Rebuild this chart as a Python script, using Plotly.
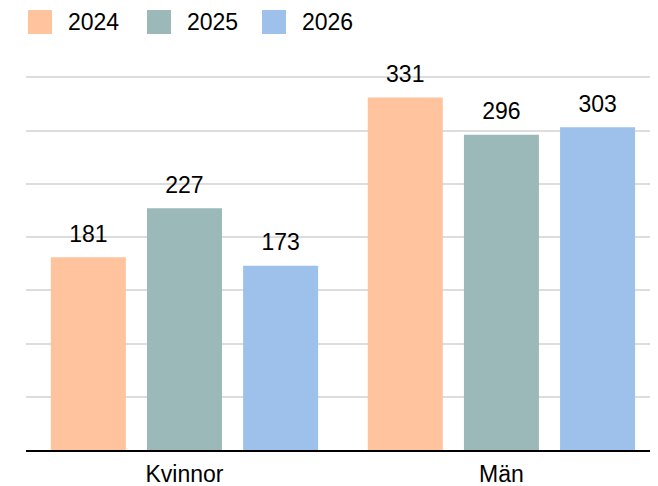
import plotly.graph_objects as go

categories = ["Kvinnor", "Män"]
series_names = ["2024", "2025", "2026"]
values_2024 = [181, 331]
values_2025 = [227, 296]
values_2026 = [173, 303]
series_values = [values_2024, values_2025, values_2026]
colors = ["#FFC39E", "#9BB9B8", "#9DC1EA"]

FONT = "Liberation Sans, Arial, Helvetica, sans-serif"
FS = 23
BARGAP = 0.09

# page body has an 8px default margin, so the figure is sized to fit the window
BODY = 8
TOP = 56 - BODY
PLOT_H = 394

fig = go.Figure()
for name, vals, col in zip(series_names, series_values, colors):
    fig.add_trace(go.Bar(
        x=categories, y=vals, name=name, marker=dict(color=col, line=dict(width=0)),
        offsetgroup=name, showlegend=False, hoverinfo="skip",
    ))
for name, vals in zip(series_names, series_values):
    fig.add_trace(go.Scatter(
        x=categories, y=vals, mode="markers+text", text=[str(v) for v in vals],
        textposition="top center", textfont=dict(family=FONT, size=FS, color="#000000"),
        marker=dict(size=14, opacity=0), offsetgroup=name, showlegend=False,
        hoverinfo="skip",
    ))

# legend drawn as swatches + labels
legend_x = [28, 147, 262]
plot_left, plot_w = 26, 632
shapes, annotations = [], []
for lx, name, col in zip(legend_x, series_names, colors):
    x0 = (lx - plot_left) / plot_w
    x1 = (lx + 24 - plot_left) / plot_w
    shapes.append(dict(type="rect", xref="paper", yref="paper", x0=x0, x1=x1,
                       y0=1 + (56 - 34) / PLOT_H, y1=1 + (56 - 10) / PLOT_H,
                       fillcolor=col, line=dict(width=0), layer="above"))
    annotations.append(dict(text=name, xref="paper", yref="paper",
                            x=(lx + 38 - plot_left) / plot_w, y=1 + (56 - 22) / PLOT_H,
                            xanchor="left", yanchor="middle", showarrow=False,
                            font=dict(family=FONT, size=FS, color="#000000")))

fig.update_layout(
    width=658 - BODY, height=486 - BODY,
    margin=dict(l=26 - BODY, r=0, t=TOP, b=36, pad=0),
    paper_bgcolor="white", plot_bgcolor="white",
    barmode="group", bargap=BARGAP, bargroupgap=0.22,
    scattermode="group", scattergap=BARGAP,
    font=dict(family=FONT, size=FS, color="#000000"),
    shapes=shapes, annotations=annotations,
    xaxis=dict(range=[-0.5, 1.494], showline=True, linecolor="#000000", linewidth=2,
               ticks="", showgrid=False, tickfont=dict(family=FONT, size=FS, color="#000000"),
               ticklabelstandoff=2, fixedrange=True),
    yaxis=dict(range=[0, 370], dtick=50, tick0=0, showticklabels=False, ticks="",
               showgrid=True, gridcolor="#DDDDDD", gridwidth=2, zeroline=False,
               fixedrange=True),
    showlegend=False,
)

fig.write_html("out.html", config={"displayModeBar": False})
